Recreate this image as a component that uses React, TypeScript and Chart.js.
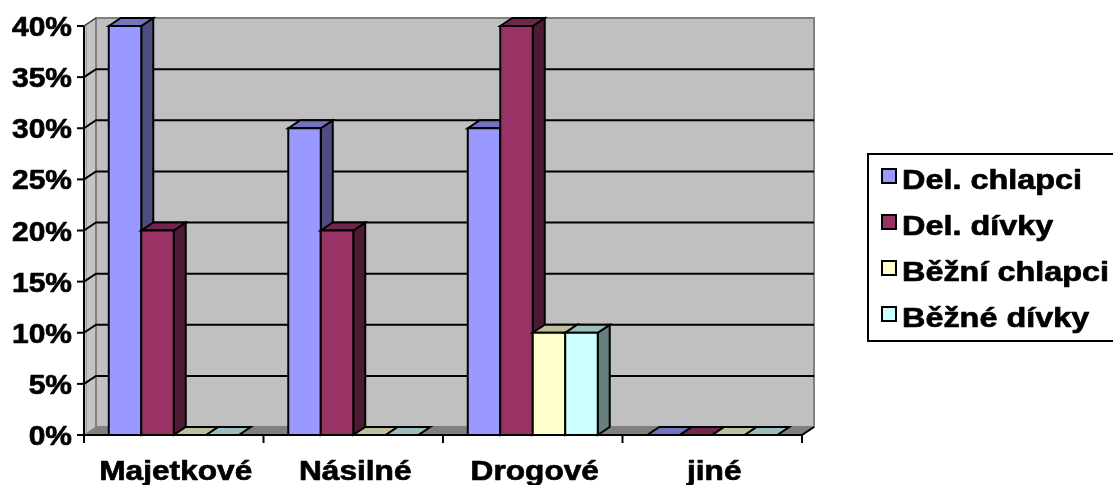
import { useEffect, useRef } from 'react';
import { Chart, registerables } from 'chart.js';

Chart.register(...registerables);

const categories = ['Majetkové', 'Násilné', 'Drogové', 'jiné'];
const seriesNames = ['Del. chlapci', 'Del. dívky', 'Běžní chlapci', 'Běžné dívky'];
const delChlapci = [40, 30, 30, 0];
const delDivky = [20, 20, 40, 0];
const bezniChlapci = [0, 0, 10, 0];
const bezneDivky = [0, 0, 10, 0];
const seriesValues = [delChlapci, delDivky, bezniChlapci, bezneDivky];
const seriesColors = ['#9999FF', '#993366', '#FFFFCC', '#CCFFFF'];
const yTickValues = [0, 5, 10, 15, 20, 25, 30, 35, 40];
const yTickLabels = yTickValues.map((v) => v + '%');

const W = 1113;
const H = 485;
const DX = 12;
const DY = -8;
const FONT = "bold 28px 'Liberation Sans', Arial, sans-serif";
const XFONT = "bold 28px 'Liberation Sans', Arial, sans-serif";
const LFONT = "bold 27px 'Liberation Sans', Arial, sans-serif";

function shade(hex: string, f: number) {
  const n = parseInt(hex.slice(1), 16);
  const r = Math.round(((n >> 16) & 255) * f);
  const g = Math.round(((n >> 8) & 255) * f);
  const b = Math.round((n & 255) * f);
  return `rgb(${r},${g},${b})`;
}

function poly(ctx: CanvasRenderingContext2D, pts: number[][], fill: string | null, stroke: string | null, lw = 2) {
  ctx.beginPath();
  ctx.moveTo(pts[0][0], pts[0][1]);
  for (let i = 1; i < pts.length; i++) ctx.lineTo(pts[i][0], pts[i][1]);
  ctx.closePath();
  if (fill) {
    ctx.fillStyle = fill;
    ctx.fill();
  }
  if (stroke) {
    ctx.strokeStyle = stroke;
    ctx.lineWidth = lw;
    ctx.lineJoin = 'miter';
    ctx.stroke();
  }
}

function line(ctx: CanvasRenderingContext2D, pts: number[][], color: string, lw = 2) {
  ctx.beginPath();
  ctx.moveTo(pts[0][0], pts[0][1]);
  for (let i = 1; i < pts.length; i++) ctx.lineTo(pts[i][0], pts[i][1]);
  ctx.strokeStyle = color;
  ctx.lineWidth = lw;
  ctx.stroke();
}

function text(ctx: CanvasRenderingContext2D, s: string, x: number, y: number, align: CanvasTextAlign, sx: number, font: string) {
  ctx.save();
  ctx.font = font;
  ctx.fillStyle = '#000';
  ctx.strokeStyle = '#000';
  ctx.lineWidth = 0.7;
  ctx.lineJoin = 'round';
  ctx.textBaseline = 'alphabetic';
  ctx.textAlign = align;
  ctx.translate(x, y);
  ctx.scale(sx, 1);
  ctx.fillText(s, 0, 0);
  ctx.strokeText(s, 0, 0);
  ctx.restore();
}

const excel3d = {
  id: 'excel3d',
  beforeDatasetsDraw(chart: any) {
    const ctx: CanvasRenderingContext2D = chart.ctx;
    const xs = chart.scales.x;
    const ys = chart.scales.y;
    const L = xs.left;
    const R = xs.right;
    const T = ys.getPixelForValue(yTickValues[yTickValues.length - 1]);
    const B = ys.getPixelForValue(0);
    ctx.save();

    // walls and floor
    poly(ctx, [[L, T], [L + DX, T + DY], [L + DX, B + DY], [L, B]], '#C4C4C4', '#909090', 1.5);
    line(ctx, [[L + 2.5, T - 1], [L + 2.5, B - 1]], '#A0A0A0', 1);
    poly(ctx, [[L + DX, T + DY], [R + DX, T + DY], [R + DX, B + DY], [L + DX, B + DY]], '#C0C0C0', '#808080', 2);
    poly(ctx, [[L, B], [R, B], [R + DX, B + DY], [L + DX, B + DY]], '#808080', null);

    // gridlines
    yTickValues.forEach((v, i) => {
      if (i === 0 || i === yTickValues.length - 1) return;
      const y = ys.getPixelForValue(v);
      line(ctx, [[L, y], [L + DX, y + DY], [R + DX, y + DY]], '#000', 2);
    });
    line(ctx, [[L, T], [L + DX, T + DY]], '#404040', 1.5);

    // bars
    const nDs = chart.data.datasets.length;
    for (let j = 0; j < categories.length; j++) {
      for (let i = 0; i < nDs; i++) {
        const meta = chart.getDatasetMeta(i);
        const el = meta.data[j];
        const p = el.getProps(['x', 'y', 'base', 'width'], true);
        const x0 = p.x - p.width / 2;
        const x1 = p.x + p.width / 2;
        const top = Math.min(p.y, p.base);
        const bot = Math.max(p.y, p.base);
        const c = seriesColors[i];
        if (bot - top > 0.5) {
          poly(ctx, [[x1, top], [x1 + DX, top + DY], [x1 + DX, bot + DY], [x1, bot]], shade(c, 0.5), '#000', 2);
        }
        poly(ctx, [[x0, top], [x0 + DX, top + DY], [x1 + DX, top + DY], [x1, top]], shade(c, 0.75), '#000', 2);
        if (bot - top > 0.5) {
          poly(ctx, [[x0, top], [x1, top], [x1, bot], [x0, bot]], c, '#000', 2);
        }
      }
    }

    // axes
    line(ctx, [[L, T], [L, B]], '#000', 2);
    yTickValues.forEach((v) => {
      const y = ys.getPixelForValue(v);
      line(ctx, [[L - 7, y], [L, y]], '#000', 2);
    });
    line(ctx, [[L - 1, B], [R, B], [R + DX, B + DY]], '#000', 2);
    const n = categories.length;
    for (let k = 0; k <= n; k++) {
      const x = L + (k * (R - L)) / n;
      line(ctx, [[x, B], [x, B + 8]], '#000', 2);
    }

    // y labels
    yTickValues.forEach((v, i) => {
      const y = ys.getPixelForValue(v);
      text(ctx, yTickLabels[i], L - 12, y + 10, 'right', 1.07, FONT);
    });
    // x labels
    categories.forEach((c, j) => {
      const x = xs.getPixelForValue(j);
      text(ctx, c, x + 2, B + 45, 'center', 1.13, XFONT);
    });

    // legend
    const lx = 868;
    const ly = 154;
    ctx.strokeStyle = '#000';
    ctx.lineWidth = 2;
    ctx.strokeRect(lx, ly, 270, 187);
    seriesNames.forEach((name, i) => {
      const base = 189 + i * 46;
      ctx.fillStyle = seriesColors[i];
      ctx.fillRect(882, base - 20, 14, 14);
      ctx.strokeStyle = '#000';
      ctx.lineWidth = 2;
      ctx.strokeRect(882, base - 20, 14, 14);
      text(ctx, name, 902, base, 'left', 1.2, LFONT);
    });

    ctx.restore();
    return false;
  },
};

export default function App() {
  const ref = useRef<HTMLCanvasElement | null>(null);
  useEffect(() => {
    if (!ref.current) return;
    const chart = new Chart(ref.current, {
      type: 'bar',
      data: {
        labels: categories,
        datasets: seriesNames.map((name, i) => ({
          label: name,
          data: seriesValues[i],
          backgroundColor: seriesColors[i],
          borderColor: '#000',
          borderWidth: 2,
          categoryPercentage: 0.724,
          barPercentage: 1,
        })),
      },
      options: {
        responsive: false,
        animation: false,
        events: [],
        layout: { padding: { left: 84, top: 26, right: W - 802, bottom: H - 435 } },
        plugins: { legend: { display: false }, tooltip: { enabled: false }, title: { display: false } },
        scales: {
          x: { display: false, offset: true },
          y: { display: false, min: 0, max: 40, ticks: { stepSize: 5 } },
        },
      },
      plugins: [excel3d],
    });
    return () => chart.destroy();
  }, []);
  return (
    <div style={{ position: 'fixed', left: 0, top: 0, width: W, height: H, background: '#fff' }}>
      <canvas ref={ref} width={W} height={H} style={{ width: W, height: H, display: 'block' }} />
    </div>
  );
}
